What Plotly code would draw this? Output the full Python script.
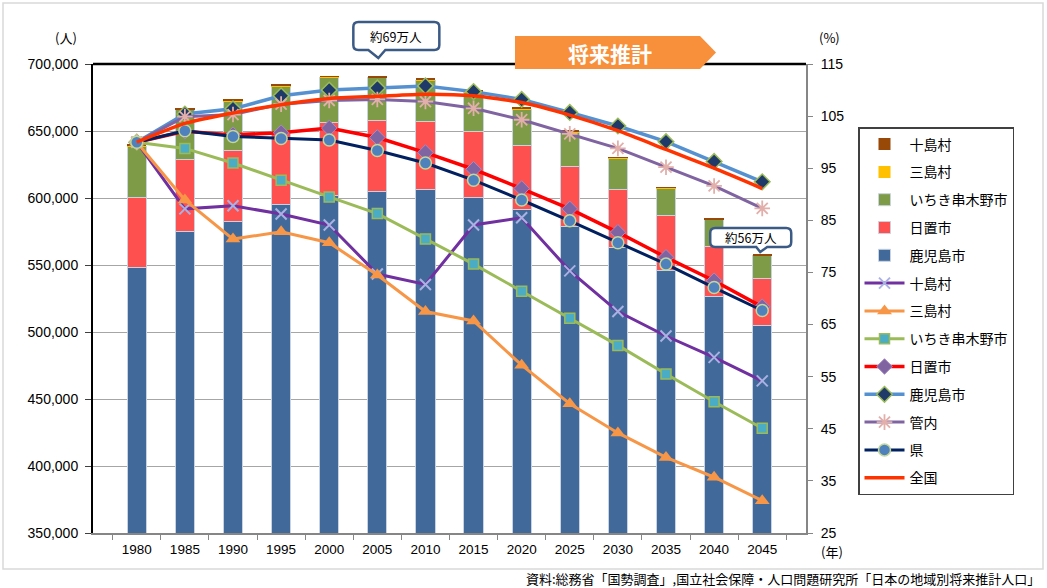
import plotly.graph_objects as go

# ---- data -------------------------------------------------------------
years = ["1980", "1985", "1990", "1995", "2000", "2005", "2010",
         "2015", "2020", "2025", "2030", "2035", "2040", "2045"]

# population (persons), stacked bars
pop_kagoshima = [548500, 574900, 582800, 595300, 602200, 604700, 606200,
                 600200, 591600, 578600, 562900, 545800, 526300, 504500]
pop_hioki = [51700, 54200, 52800, 53000, 54000, 53000, 51000,
             49800, 47500, 44800, 43600, 40800, 37300, 35100]
pop_ichiki = [38300, 36600, 36300, 35000, 33600, 32100, 30800,
              28900, 27200, 25700, 23100, 20700, 20300, 17200]
pop_mishima = [620, 550, 510, 520, 500, 460, 420,
               410, 360, 310, 280, 250, 220, 190]
pop_toshima = [880, 770, 770, 760, 740, 660, 640,
               740, 750, 660, 590, 550, 520, 480]

# index (1980 = 100), lines on the right axis
idx_toshima = [100, 87.2, 87.8, 86.2, 84.1, 74.7, 72.7,
               84.1, 85.5, 75.3, 67.5, 62.8, 58.7, 54.2]
idx_mishima = [100, 88.9, 81.4, 82.8, 80.7, 74.5, 67.5,
               65.7, 57.2, 49.8, 44.2, 39.5, 35.7, 31.2]
idx_ichiki = [100, 98.8, 96.0, 92.7, 89.5, 86.3, 81.4,
              76.6, 71.4, 66.2, 61.0, 55.5, 50.2, 45.1]
idx_hioki = [100, 102.1, 101.4, 101.8, 102.7, 100.9, 98.0,
             94.8, 91.1, 87.2, 82.7, 77.9, 73.4, 68.4]
idx_kagoshima = [100, 105.4, 106.4, 108.9, 110.0, 110.4, 110.8,
                 109.7, 108.2, 105.7, 103.1, 100.1, 96.3, 92.4]
idx_kannai = [100, 104.9, 105.3, 107.3, 108.0, 108.2, 107.8,
              106.5, 104.3, 101.6, 98.8, 95.2, 91.6, 87.3]
idx_pref = [100, 102.2, 101.1, 100.7, 100.4, 98.4, 96.0,
            92.7, 88.9, 84.9, 80.7, 76.6, 72.1, 67.7]
idx_japan = [100, 103.6, 105.6, 107.2, 108.4, 108.8, 109.2,
             108.9, 107.6, 105.2, 102.2, 98.6, 95.0, 91.1]

left_ticks = list(range(350000, 700001, 50000))
right_ticks = list(range(25, 116, 10))

JP = "Noto Sans CJK JP"
NUM = "Liberation Sans"

fig = go.Figure()

# ---- stacked bars (bottom to top) ------------------------------------
bar_specs = [
    ("鹿児島市", pop_kagoshima, "#416A9B", 5, 1),
    ("日置市", pop_hioki, "#FF5050", 4, 1),
    ("いちき串木野市", pop_ichiki, "#7E9B48", 3, 1),
    ("三島村", pop_mishima, "#FFC000", 2, 0),
    ("十島村", pop_toshima, "#984807", 1, 0),
]
for name, vals, col, rank, lw in bar_specs:
    fig.add_trace(go.Bar(
        x=years, y=vals, name=name, yaxis="y",
        marker=dict(color=col, line=dict(color="#C9D2E0", width=lw)),
        legendgroup=name + "_bar", legendrank=rank,
    ))

# ---- index lines ------------------------------------------------------
line_specs = [
    ("十島村", idx_toshima, "#7030A0", 3,
     dict(symbol="x-thin", size=11, color="#A9B2E2", line=dict(color="#A9B2E2", width=2)), 6, "linear"),
    ("三島村", idx_mishima, "#F79646", 3,
     dict(symbol="triangle-up", size=13, color="#F79646"), 7, "linear"),
    ("いちき串木野市", idx_ichiki, "#9BBB59", 3,
     dict(symbol="square", size=10, color="#4BACC6", line=dict(color="#9BBB59", width=1.5)), 8, "linear"),
    ("日置市", idx_hioki, "#FF0000", 3.5,
     dict(symbol="diamond", size=12, color="#8064A2", line=dict(color="#A58BC4", width=1)), 9, "linear"),
    ("鹿児島市", idx_kagoshima, "#5591D0", 3.5,
     dict(symbol="diamond", size=12, color="#1F3A68", line=dict(color="#9BBB59", width=1.5)), 10, "linear"),
    ("管内", idx_kannai, "#8064A2", 3,
     dict(symbol="asterisk-open", size=13, color="#E2AFAA", line=dict(color="#E2AFAA", width=1.8)), 11, "linear"),
    ("県", idx_pref, "#002060", 3,
     dict(symbol="circle", size=12, color="#4F81BD", line=dict(color="#C3D69B", width=1.5)), 12, "linear"),
    ("全国", idx_japan, "#FF3300", 3.5, None, 13, "spline"),
]
for name, vals, col, w, mk, rank, shape in line_specs:
    fig.add_trace(go.Scatter(
        x=years, y=vals, name=name, yaxis="y2",
        mode="lines+markers" if mk else "lines",
        line=dict(color=col, width=w, shape=shape, smoothing=0.6),
        marker=mk if mk else None,
        legendgroup=name + "_line", legendrank=rank,
    ))

# ---- geometry helpers (plot area in pixels) ---------------------------
L, R, T, B = 93, 806, 64, 533


def px_x(px):
    return (px - L) / (R - L)


def px_y(py):
    return (B - py) / (B - T)


def callout_path(left, right, top, bottom, p1, p2, tip, r=5):
    tx, ty = tip
    return (f"M{left + r},{top} L{right - r},{top} Q{right},{top} {right},{top - r} "
            f"L{right},{bottom + r} Q{right},{bottom} {right - r},{bottom} "
            f"L{p2},{bottom} L{tx},{ty} L{p1},{bottom} "
            f"L{left + r},{bottom} Q{left},{bottom} {left},{bottom + r} "
            f"L{left},{top - r} Q{left},{top} {left + r},{top} Z")


total_2045 = (pop_kagoshima[13] + pop_hioki[13] + pop_ichiki[13]
              + pop_mishima[13] + pop_toshima[13])

shapes = [
    # outer chart frame
    dict(type="rect", xref="paper", yref="paper",
         x0=px_x(3), x1=px_x(1043), y0=px_y(569), y1=px_y(3),
         line=dict(color="#D9D9D9", width=1.5), layer="below"),
    # top edge of the plot area
    dict(type="line", xref="paper", yref="paper", x0=0, x1=1, y0=1, y1=1,
         line=dict(color="black", width=2.5)),
    # 将来推計 banner
    dict(type="path", xref="paper", yref="paper", xsizemode="pixel", ysizemode="pixel",
         xanchor=0, yanchor=1,
         path="M422,28 L607,28 L623,11.5 L607,-5 L422,-5 Z",
         fillcolor="#F78F3B", line=dict(width=0)),
    # callout over 2005
    dict(type="path", xref="x", yref="paper", xsizemode="pixel", ysizemode="pixel",
         xanchor=5, yanchor=1,
         path=callout_path(-24, 62, 42, 14, -9, 8, (1, 6)),
         fillcolor="white", line=dict(color="#3B5A85", width=2.5)),
    # callout over 2045
    dict(type="path", xref="x", yref="y", xsizemode="pixel", ysizemode="pixel",
         xanchor=13, yanchor=total_2045,
         path=callout_path(-52, 29, 27, 8, -6, 5, (-2, 3)),
         fillcolor="white", line=dict(color="#3B5A85", width=2.5)),
]


def label(text, x, y, size=13, xref="paper", yref="paper", xshift=0, yshift=0,
          xanchor="center", color="black"):
    return dict(text=text, xref=xref, yref=yref, x=x, y=y, xshift=xshift, yshift=yshift,
                xanchor=xanchor, yanchor="middle", showarrow=False,
                font=dict(family=JP, size=size, color=color))


annotations = [
    label("約69万人", 5, 1, 12.5, xref="x", xshift=19, yshift=28),
    label("約56万人", 13, total_2045, 12.5, xref="x", yref="y", xshift=-11, yshift=17.5),
    label("<b>将来推計</b>", 0, 1, 21, xshift=517, yshift=11, color="white"),
    label("(人)", px_x(66), px_y(37)),
    label("(%)", px_x(829), px_y(37)),
    label("(年)", px_x(832), px_y(551)),
    label("資料:総務省「国勢調査」,国立社会保障・人口問題研究所「日本の地域別将来推計人口」",
          px_x(1042), px_y(578), 13, xanchor="right"),
]

fig.update_layout(
    width=1047, height=588,
    margin=dict(l=L, r=1047 - R, t=T, b=588 - B, pad=0),
    paper_bgcolor="white", plot_bgcolor="white",
    barmode="stack", bargap=0.6,
    font=dict(family=NUM, size=13, color="black"),
    xaxis=dict(type="category", showline=True, linecolor="#868686", linewidth=2,
               ticks="outside", tickson="boundaries", ticklen=5, tickcolor="#868686",
               showgrid=False, tickfont=dict(family=NUM, size=13.5),
               ticklabelstandoff=3),
    yaxis=dict(range=[350000, 700000], tickvals=left_ticks, tickformat=",",
               showline=True, linecolor="black", linewidth=2,
               ticks="outside", ticklen=6, tickcolor="#404040",
               showgrid=True, gridcolor="#A6A6A6", gridwidth=1.3, zeroline=False,
               tickfont=dict(family=NUM, size=14), ticklabelstandoff=4),
    yaxis2=dict(range=[25, 115], tickvals=right_ticks, overlaying="y", side="right",
                showline=True, linecolor="#868686", linewidth=2,
                ticks="outside", ticklen=5, tickcolor="#868686",
                showgrid=False, zeroline=False, tickfont=dict(family=NUM, size=14),
                ticklabelstandoff=5),
    legend=dict(x=px_x(858), xanchor="left", y=px_y(127), yanchor="top",
                bgcolor="white", bordercolor="#404040", borderwidth=1.5,
                font=dict(family=JP, size=14, color="black"),
                traceorder="grouped", tracegroupgap=6.6, itemwidth=40),
    shapes=shapes,
    annotations=annotations,
)

fig.write_html("out.html")
